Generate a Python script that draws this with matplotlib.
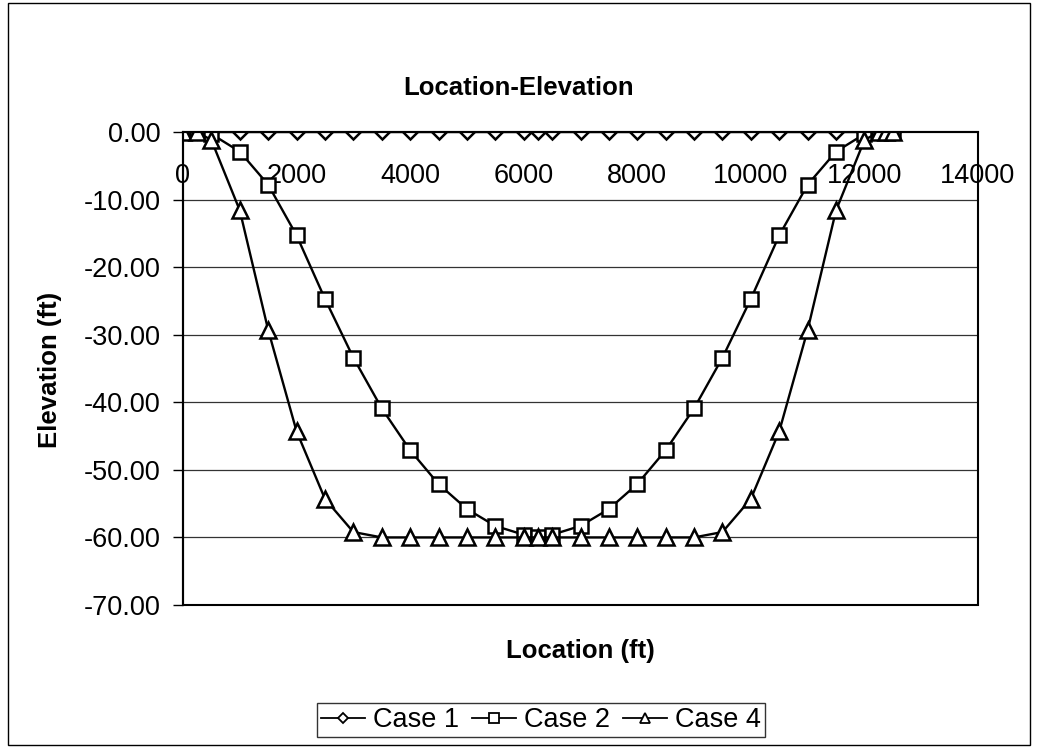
import numpy as np
import matplotlib
matplotlib.use("Agg")
import matplotlib.pyplot as plt
from matplotlib.patches import Rectangle

plt.rcParams['font.family'] = ['Liberation Sans', 'DejaVu Sans']
plt.rcParams['axes.unicode_minus'] = False

# Location along the profile (ft)
location = [0, 250, 500, 1000, 1500, 2000, 2500, 3000, 3500, 4000, 4500, 5000,
            5500, 6000, 6250, 6500, 7000, 7500, 8000, 8500, 9000, 9500, 10000,
            10500, 11000, 11500, 12000, 12250, 12375, 12500]

# Elevation (ft) for each case
case1 = [0.0] * len(location)
case2 = [0.0, 0.0, -0.3, -2.9, -7.8, -15.3, -24.7, -33.4, -40.9, -47.1, -52.1, -55.8,
         -58.3, -59.6, -60.0, -59.6, -58.3, -55.8, -52.1, -47.1, -40.9, -33.4, -24.7,
         -15.3, -7.8, -2.9, -0.3, 0.0, 0.0, 0.0]
case4 = [0.0, 0.0, -1.2, -11.6, -29.3, -44.3, -54.3, -59.2, -60.0, -60.0, -60.0, -60.0,
         -60.0, -60.0, -60.0, -60.0, -60.0, -60.0, -60.0, -60.0, -60.0, -59.2, -54.3,
         -44.3, -29.3, -11.6, -1.2, 0.0, 0.0, 0.0]

x_ticks = [0, 2000, 4000, 6000, 8000, 10000, 12000, 14000]
y_ticks = [0, -10, -20, -30, -40, -50, -60, -70]

fig = plt.figure(figsize=(10.38, 7.48), dpi=100)
ax = fig.add_axes([183 / 1038, 1 - 605 / 748, 795 / 1038, 473 / 748])

style = dict(color='black', lw=1.7, mfc='white', mec='black', mew=1.8)
l1, = ax.plot(location, case1, marker='D', ms=7.5, label='Case 1', **style)
l2, = ax.plot(location, case2, marker='s', ms=10, label='Case 2', **style)
l3, = ax.plot(location, case4, marker='^', ms=11.5, label='Case 4', **style)

ax.set_xlim(0, 14000)
ax.set_ylim(-70, 0)
ax.set_xticks(x_ticks)
ax.set_xticklabels([str(t) for t in x_ticks])
ax.set_yticks(y_ticks)
ax.set_yticklabels(['%.2f' % t for t in y_ticks])

# horizontal gridlines only
for t in y_ticks[1:-1]:
    ax.axhline(t, color='#333333', lw=0.9, zorder=0)

# x axis crosses at elevation 0 (top of the plot)
ax.spines['bottom'].set_position(('data', 0))
ax.spines['bottom'].set_linewidth(1.5)
ax.spines['left'].set_linewidth(1.5)
ax.spines['top'].set_visible(False)
ax.spines['right'].set_visible(False)
ax.add_patch(Rectangle((0, 0), 1, 1, transform=ax.transAxes, fill=False,
                       ec='black', lw=1.5, clip_on=False, zorder=5))
ax.tick_params(axis='x', length=0, pad=22, labelsize=19.5)
ax.tick_params(axis='y', direction='out', length=7, width=1, pad=9, labelsize=19.5)

fig.text(0.5, 1 - 88 / 748, 'Location-Elevation', ha='center', va='center',
         fontsize=18.5, fontweight='bold')
fig.text(580 / 1038, 1 - 651 / 748, 'Location (ft)', ha='center', va='center',
         fontsize=18.5, fontweight='bold')
fig.text(50 / 1038, 1 - 370 / 748, 'Elevation (ft)', ha='center', va='center',
         rotation=90, fontsize=18.5, fontweight='bold')

leg = fig.legend(handles=[l1, l2, l3], loc='center', ncol=3,
                 bbox_to_anchor=(541 / 1038, 1 - 720 / 748), fontsize=19.5,
                 frameon=True, fancybox=False, edgecolor='black',
                 handlelength=1.6, handletextpad=0.3, columnspacing=0.5,
                 borderpad=0.15, borderaxespad=0)
leg.get_frame().set_linewidth(1.0)
for h in leg.legend_handles:
    h.set_markersize(h.get_markersize() * 0.65)
    h.set_markeredgewidth(1.3)
    h.set_linewidth(1.3)

# outer chart border
fig.add_artist(Rectangle((8 / 1038, 3 / 748), 1022 / 1038, 742 / 748,
                         transform=fig.transFigure, fill=False, ec='black', lw=1.0))

fig.savefig('out.png', dpi=100)
